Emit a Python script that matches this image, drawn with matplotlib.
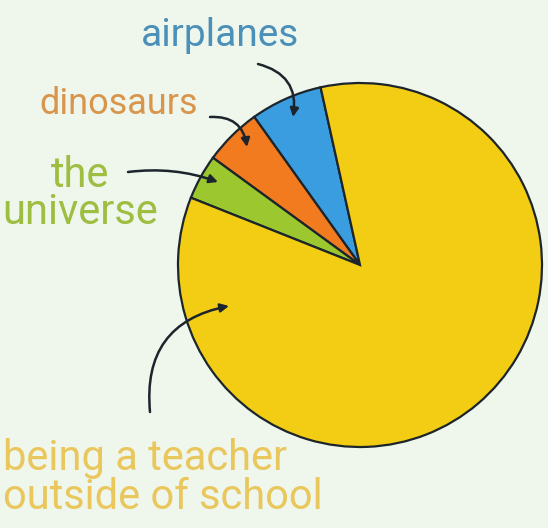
import matplotlib.pyplot as plt

# Slice shares (degrees -> share of 360).
labels = ["airplanes", "dinosaurs", "the\nuniverse", "being a teacher\noutside of school"]
shares = [6.4, 5.1, 4.0, 84.5]
slice_colors = ["#3a9de0", "#f27b1f", "#9cc72f", "#f3cd14"]
text_colors = ["#4b90b8", "#d8954b", "#9dbe40", "#e9c75c"]

W, H = 548, 528
BG = "#eff6ec"
FONT = ["Roboto", "DejaVu Sans"]


def py(y):
    # image rows run downwards, axes run upwards
    return H - y


fig = plt.figure(figsize=(W / 100, H / 100), dpi=100, facecolor=BG)
ax = fig.add_axes([0, 0, 1, 1])
ax.set_facecolor(BG)

ax.pie(
    shares,
    colors=slice_colors,
    startangle=102.5,
    center=(360, py(265)),
    radius=182,
    wedgeprops={"edgecolor": "#1c252c", "linewidth": 1.6},
)
ax.set_xlim(0, W)
ax.set_ylim(0, H)
ax.set_aspect("equal")
ax.axis("off")

# labels
ax.text(220, py(35), labels[0], color=text_colors[0], fontsize=28, family=FONT,
        ha="center", va="center")
ax.text(119, py(104), labels[1], color=text_colors[1], fontsize=26, family=FONT,
        ha="center", va="center")
ax.text(80, py(194), labels[2], color=text_colors[2], fontsize=30, family=FONT,
        ha="center", va="center", linespacing=0.9)
ax.text(3, py(478), labels[3], color=text_colors[3], fontsize=30, family=FONT,
        ha="left", va="center", linespacing=0.95)

arrow = dict(arrowstyle="-|>,head_length=0.5,head_width=0.25", color="#1c252c",
             lw=1.8, shrinkA=0, shrinkB=0)
ax.annotate("", xy=(293, py(117)), xytext=(258, py(64)),
            arrowprops=dict(arrow, connectionstyle="arc3,rad=-0.45"))
ax.annotate("", xy=(247, py(147)), xytext=(210, py(117)),
            arrowprops=dict(arrow, connectionstyle="arc3,rad=-0.45"))
ax.annotate("", xy=(218, py(182)), xytext=(128, py(172)),
            arrowprops=dict(arrow, connectionstyle="arc3,rad=-0.12"))
ax.annotate("", xy=(229, py(306)), xytext=(150, py(412)),
            arrowprops=dict(arrow, connectionstyle="arc3,rad=-0.45"))

fig.savefig("out.png", dpi=100, facecolor=BG)
